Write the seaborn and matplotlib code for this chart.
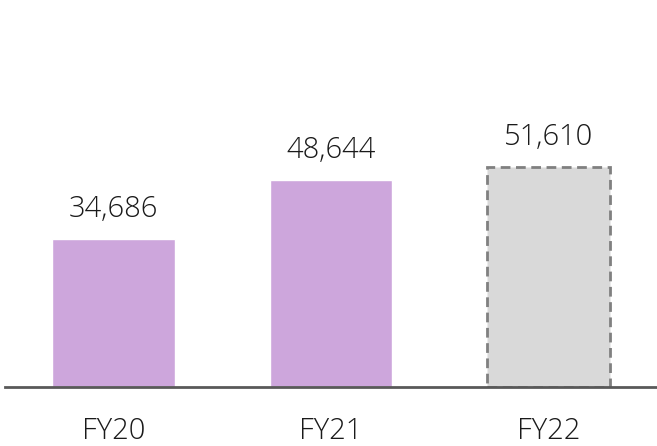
import numpy as np
import pandas as pd
import seaborn as sns
import matplotlib.pyplot as plt

# Chart data
years = ['FY20', 'FY21', 'FY22']
values = [34686, 48644, 51610]
colors = ['#CDA6DC', '#CDA6DC', '#D9D9D9']

df = pd.DataFrame({'year': years, 'value': values})

sns.set_theme(style='white')
plt.rcParams['font.family'] = ['Open Sans', 'DejaVu Sans']

fig = plt.figure(figsize=(6.57, 4.46), dpi=100)
ax = fig.add_axes([5 / 657, 1 - 387 / 446, 652 / 657, 387 / 446])

sns.barplot(data=df, x='year', y='value', hue='year', palette=colors,
            width=0.565, legend=False, saturation=1, ax=ax)

# FY22 is an estimate: dashed grey outline
last = ax.patches[2]
last.set_edgecolor('#808080')
last.set_linestyle((0, (3.5, 2)))
last.set_linewidth(2)

for i, v in enumerate(values):
    ax.annotate(f'{v:,}', (i, v), xytext=(0, 11), textcoords='offset points',
                ha='center', va='bottom', fontsize=21, fontweight='light',
                color='#1A1A1A')

ax.set_xlim(-0.5, 2.5)
ax.set_ylim(0, 90900)
ax.set_xlabel('')
ax.set_ylabel('')
ax.set_yticks([])
ax.tick_params(axis='x', length=0, pad=21, labelsize=21, labelcolor='#1A1A1A')
for lbl in ax.get_xticklabels():
    lbl.set_fontweight('light')
for side in ['top', 'right', 'left']:
    ax.spines[side].set_visible(False)
ax.spines['bottom'].set_color('#595959')
ax.spines['bottom'].set_linewidth(2)

fig.savefig('out.png', dpi=100)
